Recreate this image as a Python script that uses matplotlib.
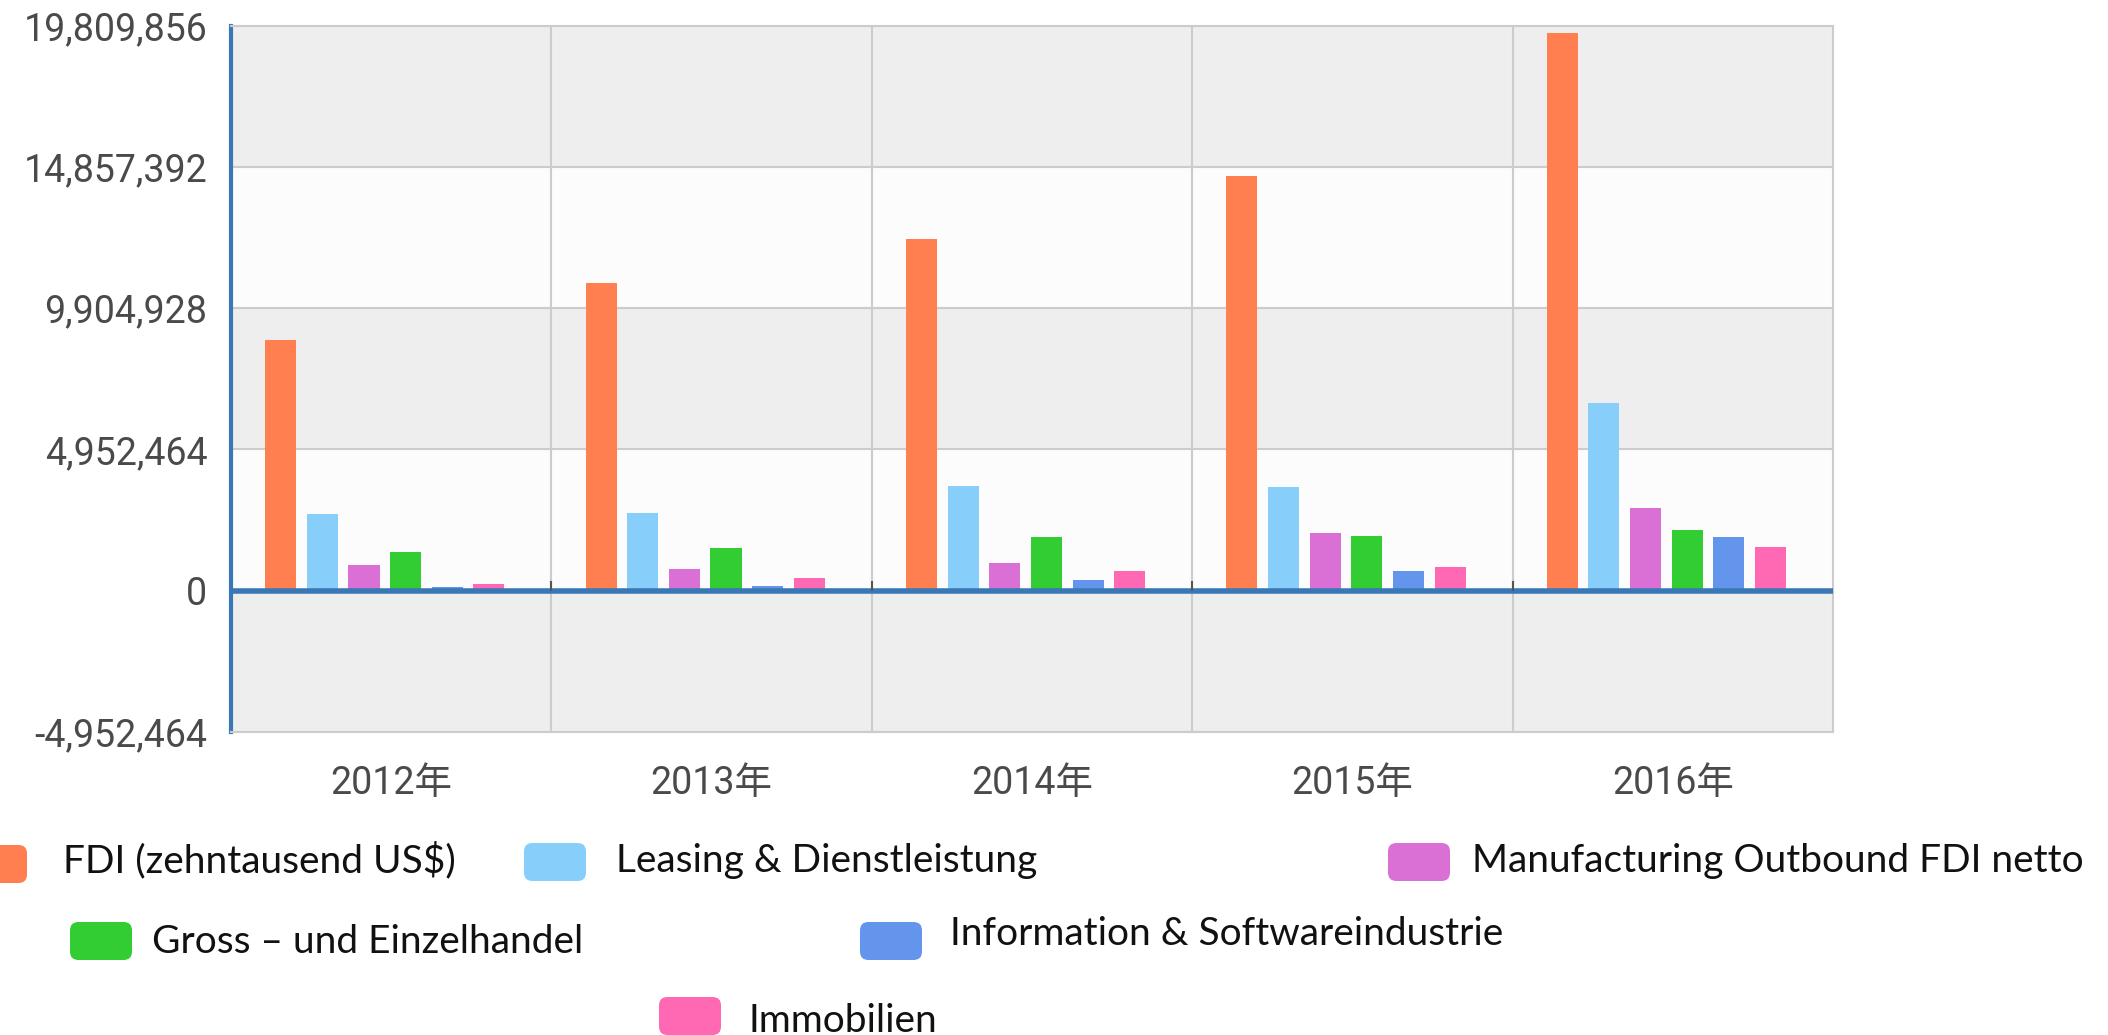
import numpy as np
import matplotlib
matplotlib.use("Agg")
import matplotlib.pyplot as plt
from matplotlib.patches import FancyBboxPatch
from matplotlib.ticker import FuncFormatter

# data
years = ["2012年", "2013年", "2014年", "2015年", "2016年"]
fdi = [8.78e6, 10.78e6, 12.32e6, 14.54e6, 19.56e6]
leasing = [2.68e6, 2.72e6, 3.68e6, 3.63e6, 6.58e6]
manufacturing = [0.91e6, 0.75e6, 0.98e6, 2.02e6, 2.91e6]
gross = [1.34e6, 1.48e6, 1.88e6, 1.93e6, 2.11e6]
info = [0.14e6, 0.16e6, 0.36e6, 0.68e6, 1.88e6]
immo = [0.23e6, 0.43e6, 0.68e6, 0.82e6, 1.54e6]

labels = ["FDI (zehntausend US$)", "Leasing & Dienstleistung",
          "Manufacturing Outbound FDI netto", "Gross \u2013 und Einzelhandel",
          "Information & Softwareindustrie", "Immobilien"]
colors = ["#ff7f50", "#87cefa", "#da70d6", "#32cd32", "#6495ed", "#ff69b4"]
series = [fdi, leasing, manufacturing, gross, info, immo]

step = 4952464
yticks = [-step, 0, step, 2 * step, 3 * step, 4 * step]

W, H = 2108, 1035
fig = plt.figure(figsize=(W / 100, H / 100), dpi=100)
ax = fig.add_axes([231 / W, 1 - 732 / H, (1833 - 231) / W, (732 - 25.5) / H])

# alternating background bands
for i in range(len(yticks) - 1):
    c = "#eeeeee" if i % 2 == 0 else "#fcfcfc"
    ax.axhspan(yticks[i], yticks[i + 1], color=c, zorder=0, lw=0)
for t in yticks:
    ax.axhline(t, color="#cccccc", lw=1.5, zorder=1)
for b in np.arange(0.5, len(years) - 0.5, 1):
    ax.axvline(b, color="#cccccc", lw=1.5, zorder=1)

x = np.arange(len(years))
pitch = 0.13
width = 0.097
for i, (vals, col) in enumerate(zip(series, colors)):
    ax.bar(x + (i - 2.5) * pitch - 0.02, vals, width=width, color=col, zorder=3)

ax.axhline(0, color="#3a78b5", lw=4, zorder=4)
# small tick marks at category boundaries
ax.vlines(np.arange(0.5, len(years) - 0.5, 1), 0, step * 0.07, color="#555555", lw=1.5, zorder=4)

ax.set_xlim(-0.5, len(years) - 0.5)
ax.set_ylim(yticks[0], yticks[-1])
ax.set_yticks(yticks)
ax.yaxis.set_major_formatter(FuncFormatter(lambda v, p: f"{int(round(v)):,}"))
ax.set_xticks(x)
ax.set_xticklabels(years)
ax.tick_params(axis="both", length=0, colors="#4a4a4a", labelsize=27)
ax.tick_params(axis="y", pad=17)
ax.tick_params(axis="x", pad=24)
for lab in ax.get_yticklabels():
    lab.set_family(["Roboto", "DejaVu Sans"])
for lab in ax.get_xticklabels():
    lab.set_family(["Roboto", "Noto Sans CJK SC"])

for s in ["top", "bottom", "right"]:
    ax.spines[s].set_color("#cccccc")
    ax.spines[s].set_linewidth(1.5)
ax.spines["left"].set_color("#3a78b5")
ax.spines["left"].set_linewidth(3)

# legend drawn by hand, in pixel positions (top-down)
legend_pos = [
    (-35, 845, 63, 872),
    (524, 843, 616, 872),
    (1388, 843, 1472, 872),
    (70, 922, 152, 953),
    (860, 922, 950, 945),
    (659, 997, 749, 1032),
]
for (px, py, tx, ty), lab, col in zip(legend_pos, labels, colors):
    patch = FancyBboxPatch((px / W, 1 - (py + 38) / H), 62 / W, 38 / H,
                           boxstyle="round,pad=0,rounding_size=0.004",
                           mutation_aspect=W / H,
                           transform=fig.transFigure, facecolor=col,
                           edgecolor="none")
    fig.add_artist(patch)
    fig.text(tx / W, 1 - ty / H, lab, fontsize=28, family=["Lato", "DejaVu Sans"],
             va="baseline", ha="left", color="#111111")

fig.savefig("out.png", dpi=100)
